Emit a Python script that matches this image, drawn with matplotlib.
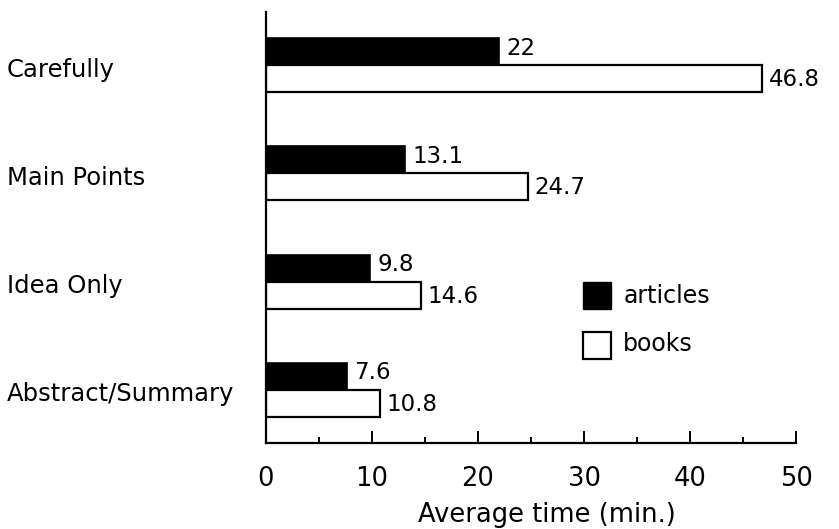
import numpy as np
import matplotlib.pyplot as plt
from matplotlib.patches import Rectangle

categories = ["Carefully", "Main Points", "Idea Only", "Abstract/Summary"]
articles = [22, 13.1, 9.8, 7.6]
books = [46.8, 24.7, 14.6, 10.8]
article_labels = ["22", "13.1", "9.8", "7.6"]
book_labels = ["46.8", "24.7", "14.6", "10.8"]

plt.rcParams['font.family'] = ['DejaVu Sans']

fig = plt.figure(figsize=(8.39, 5.29), dpi=100)
ax = fig.add_axes([0.317, 0.163, 0.632, 0.814])

y = np.arange(len(categories))
h = 0.25
ax.barh(y - h / 2, articles, height=h, color='black', edgecolor='black', linewidth=1.2)
ax.barh(y + h / 2, books, height=h, color='white', edgecolor='black', linewidth=1.6)

for yi, v, s in zip(y, articles, article_labels):
    ax.text(v + 0.7, yi - h / 2 - 0.03, s, va='center', ha='left', fontsize=16.5)
for yi, v, s in zip(y, books, book_labels):
    ax.text(v + 0.6, yi + h / 2 + 0.01, s, va='center', ha='left', fontsize=16.5)

ax.set_xlim(0, 50)
ax.set_ylim(3.49, -0.49)
ax.set_yticks([])

# category names, left aligned near the figure edge
for yi, c in zip(y, categories):
    ax.annotate(c, xy=(0, yi + 0.04), xycoords=('figure fraction', 'data'),
                xytext=(7, 0), textcoords='offset pixels',
                fontsize=17.5, ha='left', va='center')

ax.set_xticks([0, 10, 20, 30, 40, 50])
ax.set_xticks([5, 15, 25, 35, 45], minor=True)
ax.tick_params(axis='x', which='major', direction='in', length=9, width=1.4, pad=17, labelsize=18.5)
ax.tick_params(axis='x', which='minor', direction='in', length=4.6, width=1.4)
ax.set_xlabel("Average time (min.)", fontsize=18.5)
ax.xaxis.set_label_coords(0.53, -0.137)

for side in ['top', 'right']:
    ax.spines[side].set_visible(False)
ax.spines['left'].set_linewidth(1.6)
ax.spines['bottom'].set_linewidth(1.6)

# legend drawn as boxes in data space
ax.add_patch(Rectangle((29.9, 2.0), 2.6, 0.25, facecolor='black', edgecolor='black', clip_on=False))
ax.add_patch(Rectangle((29.9, 2.47), 2.6, 0.25, facecolor='white', edgecolor='black', linewidth=1.6, clip_on=False))
ax.text(33.7, 2.13, "articles", fontsize=17, va='center', ha='left')
ax.text(33.7, 2.58, "books", fontsize=17, va='center', ha='left')

fig.savefig("out.png", dpi=100)
